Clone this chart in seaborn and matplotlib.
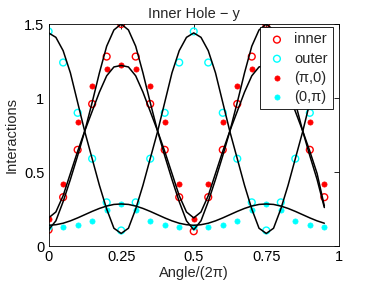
import numpy as np
import matplotlib
matplotlib.use("Agg")
import matplotlib.pyplot as plt
import seaborn as sns

# data points, angle in units of 2*pi
angle = [0, 0.05, 0.1, 0.15, 0.2, 0.25, 0.3, 0.35, 0.4, 0.45,
         0.5, 0.55, 0.6, 0.65, 0.7, 0.75, 0.8, 0.85, 0.9, 0.95]
inner = [0.11, 0.33, 0.65, 0.96, 1.28, 1.5, 1.28, 0.96, 0.65, 0.33,
         0.10, 0.33, 0.65, 0.96, 1.28, 1.5, 1.28, 0.96, 0.65, 0.33]
outer = [1.45, 1.24, 0.90, 0.59, 0.295, 0.105, 0.295, 0.59, 0.90, 1.24,
         1.45, 1.24, 0.90, 0.59, 0.295, 0.105, 0.295, 0.59, 0.90, 1.24]
pi_0 = [0.185, 0.42, 0.836, 1.083, 1.194, 1.223, 1.194, 1.083, 0.836, 0.42,
        0.185, 0.42, 0.836, 1.083, 1.194, 1.223, 1.194, 1.083, 0.836, 0.42]
zero_pi = [0.126, 0.128, 0.14, 0.17, 0.24, 0.284, 0.24, 0.17, 0.14, 0.128,
           0.126, 0.128, 0.14, 0.17, 0.24, 0.284, 0.24, 0.17, 0.14, 0.128]

# fitted curves (black lines), sampled every 0.025
fit_x = np.linspace(0, 0.95, 39)
fit_outer = [1.44, 1.41, 1.32, 1.17, 0.97, 0.77, 0.59, 0.41, 0.25, 0.12, 0.085,
             0.12, 0.25, 0.41, 0.59, 0.77, 0.97, 1.17, 1.32, 1.41, 1.44,
             1.41, 1.32, 1.17, 0.97, 0.77, 0.59, 0.41, 0.25, 0.12, 0.085,
             0.12, 0.25, 0.41, 0.59, 0.77, 0.97, 1.17, 1.32]
fit_inner = [0.11, 0.17, 0.30, 0.45, 0.61, 0.78, 0.97, 1.17, 1.35, 1.46, 1.5,
             1.46, 1.35, 1.17, 0.97, 0.78, 0.61, 0.45, 0.30, 0.17, 0.11,
             0.17, 0.30, 0.45, 0.61, 0.78, 0.97, 1.17, 1.35, 1.46, 1.5,
             1.46, 1.35, 1.17, 0.97, 0.78, 0.61, 0.45, 0.26]
fit_pi_0 = [0.19, 0.23, 0.34, 0.49, 0.64, 0.78, 0.91, 1.04, 1.15, 1.21, 1.22,
            1.21, 1.15, 1.04, 0.91, 0.78, 0.64, 0.49, 0.34, 0.23, 0.19,
            0.23, 0.34, 0.49, 0.64, 0.78, 0.91, 1.04, 1.15, 1.21, 1.22,
            1.21, 1.15, 1.04, 0.91, 0.78, 0.64, 0.49, 0.27]
fit_zero_pi = [0.14, 0.144, 0.154, 0.17, 0.19, 0.212, 0.234, 0.254, 0.27, 0.281, 0.284,
               0.281, 0.27, 0.254, 0.234, 0.212, 0.19, 0.17, 0.154, 0.144, 0.14,
               0.144, 0.154, 0.17, 0.19, 0.212, 0.234, 0.254, 0.27, 0.281, 0.284,
               0.281, 0.27, 0.254, 0.234, 0.212, 0.19, 0.17, 0.154]

sns.set_style("white")
plt.rcParams['font.family'] = ['Liberation Sans', 'DejaVu Sans']

fig = plt.figure(figsize=(3.74, 2.81), dpi=100)
ax = fig.add_axes([0.130, 0.1245, 0.776, 0.790])

sns.scatterplot(x=angle, y=inner, marker='o', s=24, facecolor='none',
                edgecolor='red', linewidth=1.0, label='inner', ax=ax, zorder=2)
sns.scatterplot(x=angle, y=outer, marker='o', s=24, facecolor='none',
                edgecolor='cyan', linewidth=1.0, label='outer', ax=ax, zorder=2)
sns.scatterplot(x=angle, y=pi_0, marker='o', s=14, color='red',
                edgecolor='red', linewidth=0.5, label='(π,0)', ax=ax, zorder=2)
sns.scatterplot(x=angle, y=zero_pi, marker='o', s=14, color='cyan',
                edgecolor='cyan', linewidth=0.5, label='(0,π)', ax=ax, zorder=2)

for fit in [fit_outer, fit_inner, fit_pi_0, fit_zero_pi]:
    sns.lineplot(x=fit_x, y=fit, color='black', linewidth=1.1,
                 estimator=None, sort=False, ax=ax, zorder=3)

ax.set_xlim(0, 1)
ax.set_ylim(0, 1.5)
ax.set_xticks([0, 0.25, 0.5, 0.75, 1])
ax.set_xticklabels(['0', '0.25', '0.5', '0.75', '1'])
ax.set_yticks([0, 0.5, 1, 1.5])
ax.set_yticklabels(['0', '0.5', '1', '1.5'])
ax.tick_params(direction='in', length=3.5, width=0.6, top=True, right=True,
               labelsize=10.5, pad=3, colors='black')
for sp in ax.spines.values():
    sp.set_color('black')
    sp.set_linewidth(0.6)

ax.set_title('Inner Hole − y', fontsize=10.5, pad=4)
ax.set_xlabel('Angle/(2π)', fontsize=10.5, labelpad=1)
ax.set_ylabel('Interactions', fontsize=10.5, labelpad=4)

leg = ax.legend(loc='upper right', bbox_to_anchor=(0.98, 0.985), borderaxespad=0,
                fontsize=10.5, frameon=True, fancybox=False, framealpha=1,
                edgecolor='black', handletextpad=0.4, borderpad=0.35,
                labelspacing=0.35, handlelength=1.6)
leg.get_frame().set_linewidth(0.6)

fig.savefig('out.png', dpi=100)
